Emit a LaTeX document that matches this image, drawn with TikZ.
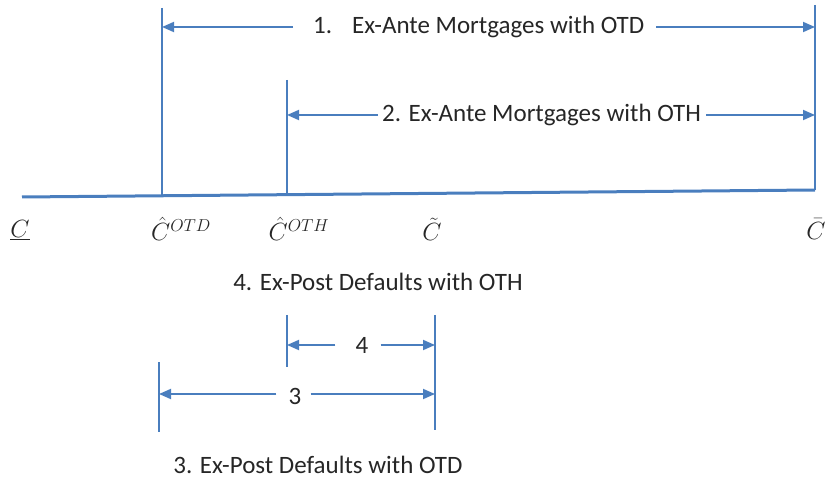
\documentclass[tikz,border=0pt]{standalone}
\usepackage{fontspec}
\setmainfont{Carlito}
\usetikzlibrary{arrows.meta}
\definecolor{lineblue}{RGB}{74,126,190}
\tikzset{
  axis/.style={draw=lineblue, line width=3pt},
  tick/.style={draw=lineblue, line width=1.2pt},
  dim/.style={draw=lineblue, line width=1.8pt, -{Triangle[length=12pt,width=10pt]}},
  lbl/.style={font=\fontsize{25}{30}\selectfont, text=black!85, inner sep=0pt},
  mlbl/.style={font=\fontsize{25}{30}\selectfont, text=black!85, inner sep=0pt}
}
\begin{document}
\begin{tikzpicture}[x=1pt,y=-1pt]
\useasboundingbox (0,0) rectangle (828,481);
% main axis
\coordinate (axL) at (22,197);
\coordinate (axR) at (815,190);
\draw[axis] (axL) -- (axR);
% vertical ticks
\coordinate (vA1) at (162,8);   \coordinate (vA2) at (162,195);
\coordinate (vB1) at (287,80);  \coordinate (vB2) at (287,193);
\coordinate (vC1) at (815,5);   \coordinate (vC2) at (815,190);
\draw[tick] (vA1) -- (vA2);
\draw[tick] (vB1) -- (vB2);
\draw[tick] (vC1) -- (vC2);
% arrow 1
\node[lbl, anchor=west] (t1) at (313,27) {1.\hspace{20pt}Ex-Ante Mortgages with OTD};
\coordinate (a1l) at (162,27); \coordinate (a1r) at (815,27);
\draw[dim] ([xshift=-20pt]t1.west) -- (a1l);
\draw[dim] ([xshift=12pt]t1.east) -- (a1r);
% arrow 2
\node[lbl, anchor=west] (t2) at (382,115) {2. Ex-Ante Mortgages with OTH};
\coordinate (a2l) at (287,115); \coordinate (a2r) at (815,115);
\draw[dim] ([xshift=-4pt]t2.west) -- (a2l);
\draw[dim] ([xshift=5pt]t2.east) -- (a2r);
% axis labels
\node[mlbl] (cl) at (20,230) {$\underline{C}$};
\node[mlbl] (cotd) at (181,229) {$\hat{C}^{OTD}$};
\node[mlbl] (coth) at (299,229) {$\hat{C}^{OTH}$};
\node[mlbl] (ct) at (432,229) {$\tilde{C}$};
\node[mlbl] (cb) at (816,229) {$\bar{C}$};
% lower section
\node[lbl] (t4) at (378,282) {4. Ex-Post Defaults with OTH};
\coordinate (vD1) at (287,315); \coordinate (vD2) at (287,367);
\coordinate (vE1) at (435,315); \coordinate (vE2) at (435,430);
\coordinate (vF1) at (159,362); \coordinate (vF2) at (159,432);
\draw[tick] (vD1) -- (vD2);
\draw[tick] (vE1) -- (vE2);
\draw[tick] (vF1) -- (vF2);
\node[lbl] (n4) at (362,345) {4};
\coordinate (a4l) at (287,345); \coordinate (a4r) at (435,345);
\draw[dim] ([xshift=-20pt]n4.west) -- (a4l);
\draw[dim] ([xshift=12pt]n4.east) -- (a4r);
\node[lbl] (n3) at (295,396) {3};
\coordinate (a3l) at (159,394); \coordinate (a3r) at (435,394);
\draw[dim] ([xshift=-12pt]n3.west |- a3l) -- (a3l);
\draw[dim] ([xshift=9pt]n3.east |- a3r) -- (a3r);
\node[lbl] (t3) at (318,465) {3. Ex-Post Defaults with OTD};
\end{tikzpicture}
\end{document}
